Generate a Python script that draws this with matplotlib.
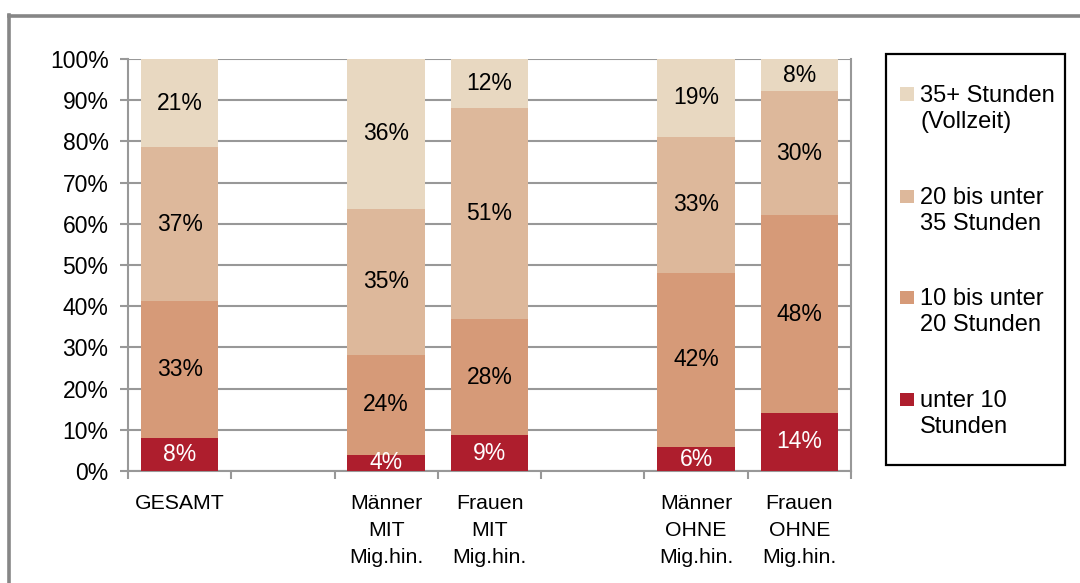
import matplotlib
matplotlib.use("Agg")
import matplotlib.pyplot as plt
from matplotlib.patches import Rectangle
from matplotlib.lines import Line2D

plt.rcParams['font.family'] = ['Liberation Sans', 'DejaVu Sans']

# Slots on the x axis; empty strings leave a gap between groups
categories = ["GESAMT", "", "Männer\nMIT\nMig.hin.", "Frauen\nMIT\nMig.hin.",
              "", "Männer\nOHNE\nMig.hin.", "Frauen\nOHNE\nMig.hin."]

# Shares (percent) per working-hours band, one value per non-empty slot
unter_10 = [8.0, 3.9, 8.7, 5.8, 14.1]
bis_20 = [33.3, 24.3, 28.2, 42.3, 48.0]
bis_35 = [37.3, 35.4, 51.2, 33.0, 30.1]
ab_35 = [21.4, 36.4, 11.9, 18.9, 7.8]

series_names = ["unter 10\nStunden", "10 bis unter\n20 Stunden",
                "20 bis unter\n35 Stunden", "35+ Stunden\n(Vollzeit)"]
series_values = [unter_10, bis_20, bis_35, ab_35]
colors = ["#AE1E2D", "#D69A78", "#DDB89B", "#E8D8C1"]
label_colors = ["white", "black", "black", "black"]

y_ticks = [0, 10, 20, 30, 40, 50, 60, 70, 80, 90, 100]

W, H = 1080, 583
fig = plt.figure(figsize=(W / 100, H / 100), dpi=100)
ax = fig.add_axes([128 / W, 1 - 471 / H, (851 - 128) / W, (471 - 59) / H])

positions = [i for i, c in enumerate(categories) if c]
grid_color = "#989898"

bottoms = [0.0] * len(positions)
for vals, col, tcol in zip(series_values, colors, label_colors):
    ax.bar(positions, vals, width=0.75, bottom=bottoms, color=col, zorder=3)
    for x, b, v in zip(positions, bottoms, vals):
        ax.text(x, b + v / 2, f"{v:.0f}%", ha="center", va="center",
                fontsize=16.5, color=tcol, zorder=4, clip_on=True)
    bottoms = [b + v for b, v in zip(bottoms, vals)]

ax.set_xlim(-0.5, len(categories) - 0.5)
ax.set_ylim(0, 100)
ax.set_yticks(y_ticks)
ax.set_yticklabels([f"{t}%" for t in y_ticks], fontsize=16.5)
ax.yaxis.grid(True, color=grid_color, linewidth=1.5, zorder=0)
ax.set_axisbelow(True)

# Tick marks between slots, labels centred under each slot
ax.set_xticks([i - 0.5 for i in range(len(categories) + 1)])
ax.set_xticklabels([])
ax.set_xticks(range(len(categories)), minor=True)
ax.set_xticklabels(categories, minor=True, fontsize=15.3, linespacing=1.52,
                   va="top")
ax.tick_params(axis="x", which="major", length=6, width=1.5, color=grid_color)
ax.tick_params(axis="x", which="minor", length=0, pad=16.5)
ax.tick_params(axis="y", length=6, width=1.5, color=grid_color, pad=8)

for side in ["left", "bottom", "right"]:
    ax.spines[side].set_color(grid_color)
    ax.spines[side].set_linewidth(1.5)
ax.spines["top"].set_visible(False)

# Outer frame (top and left edges)
fig.add_artist(Line2D([8.5 / W, 1.0], [1 - 16 / H, 1 - 16 / H],
                      color="#868686", linewidth=2.6, transform=fig.transFigure))
fig.add_artist(Line2D([9 / W, 9 / W], [0.0, 1 - 15 / H],
                      color="#868686", linewidth=2.6, transform=fig.transFigure))

# Legend box, entries listed from top band to bottom band
lx0, ly0, lx1, ly1 = 886, 54, 1065, 465
fig.add_artist(Rectangle((lx0 / W, 1 - ly1 / H), (lx1 - lx0) / W, (ly1 - ly0) / H,
                         transform=fig.transFigure, facecolor="white",
                         edgecolor="black", linewidth=1.6))
entry_y = [94, 196, 297, 399]
for name, col, py in zip(series_names[::-1], colors[::-1], entry_y):
    fig.add_artist(Rectangle((900 / W, 1 - (py + 7) / H), 13.5 / W, 13.5 / H,
                             transform=fig.transFigure, facecolor=col,
                             edgecolor="none"))
    fig.text(920 / W, 1 - (py - 9) / H, name, ha="left", va="top",
             fontsize=17, linespacing=1.25)

fig.savefig("out.png", dpi=100)
